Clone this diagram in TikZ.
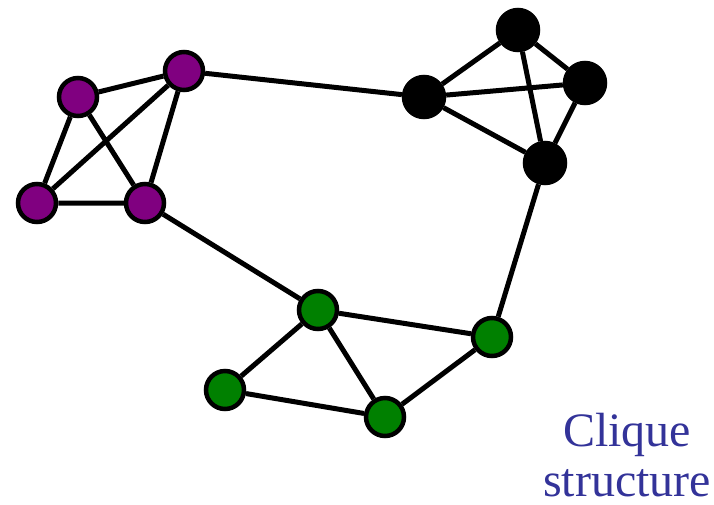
\documentclass[tikz,border=0pt]{standalone}
\usepackage{fontspec}
\setmainfont{Liberation Serif}
\definecolor{vpurple}{HTML}{800080}
\definecolor{vgreen}{HTML}{008000}
\definecolor{labelblue}{HTML}{333399}
\begin{document}
\begin{tikzpicture}[x=1pt,y=-1pt,
  vtx/.style={circle,draw=black,line width=4.5pt,minimum size=38pt,inner sep=0pt},
  pv/.style={vtx,fill=vpurple},
  bv/.style={vtx,fill=black,minimum size=40pt},
  gv/.style={vtx,fill=vgreen},
  edge/.style={line width=5pt},
  caption/.style={text=labelblue,font=\fontsize{48}{46}\selectfont,anchor=base}]
\useasboundingbox (0,0) rectangle (714,504);
% purple clique
\node[pv] (p1) at (78,97) {};
\node[pv] (p2) at (184,71) {};
\node[pv] (p3) at (37,203) {};
\node[pv] (p4) at (145,203) {};
% black clique
\node[bv] (b1) at (518,30) {};
\node[bv] (b2) at (585,83) {};
\node[bv] (b3) at (424,97) {};
\node[bv] (b4) at (545,163) {};
% green group
\node[gv] (g1) at (318,310) {};
\node[gv] (g2) at (492,337) {};
\node[gv] (g3) at (225,390) {};
\node[gv] (g4) at (385,417) {};
% edges within each group
\draw[edge] (p1)--(p2) (p1)--(p3) (p1)--(p4) (p2)--(p3) (p2)--(p4) (p3)--(p4);
\draw[edge] (b1)--(b3) (b1)--(b2) (b1)--(b4) (b3)--(b2) (b3)--(b4) (b2)--(b4);
\draw[edge] (g1)--(g2) (g1)--(g3) (g1)--(g4) (g3)--(g4) (g4)--(g2);
% links between groups
\draw[edge] (p2)--(b3) (p4)--(g1) (b4)--(g2);
% caption
\node[caption] (cap1) at (627,446) {Clique};
\node[caption] (cap2) at (627,496) {structure};
\end{tikzpicture}
\end{document}
